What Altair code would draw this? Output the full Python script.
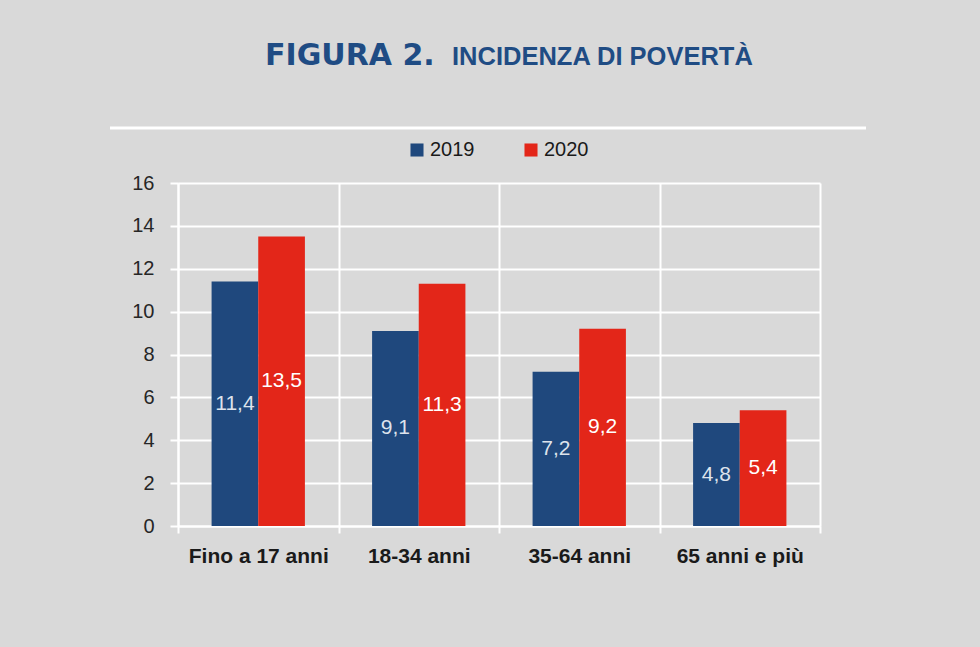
import altair as alt
import pandas as pd

# ---- data ----
categories = ["Fino a 17 anni", "18-34 anni", "35-64 anni", "65 anni e più"]
years = ["2019", "2020"]
values_2019 = [11.4, 9.1, 7.2, 4.8]
values_2020 = [13.5, 11.3, 9.2, 5.4]
y_ticks = [0, 2, 4, 6, 8, 10, 12, 14, 16]
title_left = "FIGURA 2."
title_right = "INCIDENZA DI POVERTÀ"

rows = []
for yr, vals in zip(years, [values_2019, values_2020]):
    for c, v in zip(categories, vals):
        rows.append({"cat": c, "year": yr, "v": v,
                     "label": f"{v:.1f}".replace(".", ",")})
df = pd.DataFrame(rows)

# ---- style ----
BG = "#d9d9d9"
BLUE = "#1f487d"
RED = "#e32619"
TITLE_BLUE = "#1f4c84"
SANS = "Liberation Sans, Arial, sans-serif"
W, H = 642, 343

x_enc = alt.X(
    "cat:N", sort=categories,
    scale=alt.Scale(paddingInner=0, paddingOuter=0),
    axis=alt.Axis(title=None, labelAngle=0, tickBand="extent", grid=True,
                  gridColor="white", gridWidth=2, domainColor="white",
                  domainWidth=2, tickColor="white", tickWidth=2, tickSize=7,
                  labelFont=SANS, labelFontWeight="bold", labelFontSize=21,
                  labelColor="#1a1a1a", labelPadding=12),
)
xoff = alt.XOffset("year:N", sort=years,
                   scale=alt.Scale(paddingInner=0, paddingOuter=0.72))
y_scale = alt.Scale(domain=[0, 16], nice=False)
y_axis = alt.Axis(title=None, values=y_ticks, grid=True, gridColor="white",
                  gridWidth=2, domainColor="white", domainWidth=2,
                  tickColor="white", tickWidth=2, tickSize=8,
                  labelFont=SANS, labelFontSize=20, labelColor="#262626",
                  labelPadding=16)

base = alt.Chart(df)

bars = base.mark_bar().encode(
    x=x_enc,
    xOffset=xoff,
    y=alt.Y("v:Q", scale=y_scale, axis=y_axis),
    color=alt.Color(
        "year:N", sort=years,
        scale=alt.Scale(domain=years, range=[BLUE, RED]),
        legend=alt.Legend(orient="none", legendX=229, legendY=-43,
                          direction="horizontal", title=None,
                          symbolType="square", symbolSize=170,
                          symbolStrokeWidth=0, labelFont=SANS,
                          labelFontSize=20, labelColor="#1a1a1a",
                          labelOffset=3, columnPadding=46),
    ),
)

labels = base.transform_calculate(mid="datum.v / 2").mark_text(
    font=SANS, fontSize=21, baseline="middle", align="center"
).encode(
    x=alt.X("cat:N", sort=categories),
    xOffset=xoff,
    y=alt.Y("mid:Q", scale=y_scale),
    text="label:N",
    color=alt.condition("datum.year == '2019'", alt.value("#dde3ec"),
                        alt.value("#ffffff")),
)

title1 = alt.Chart(alt.Data(values=[{"t": title_left}])).mark_text(
    font="DejaVu Sans", fontWeight="bold", fontSize=30, align="left",
    baseline="alphabetic", color=TITLE_BLUE
).encode(text="t:N", x=alt.value(87), y=alt.value(-118))

title2 = alt.Chart(alt.Data(values=[{"t": title_right}])).mark_text(
    font=SANS, fontWeight="bold", fontSize=25.5, align="left",
    baseline="alphabetic", color=TITLE_BLUE
).encode(text="t:N", x=alt.value(274), y=alt.value(-118))

topline = alt.Chart(alt.Data(values=[{"a": 1}])).mark_rule(
    color="white", strokeWidth=3
).encode(x=alt.value(-68), x2=alt.value(688), y=alt.value(-55))

chart = alt.layer(bars, labels, topline, title1, title2).properties(
    width=W, height=H,
    autosize=alt.AutoSizeParams(type="none"),
    padding={"left": 178, "top": 183, "right": 980 - 178 - W,
             "bottom": 647 - 183 - H},
    background=BG,
).configure_view(stroke=None)

chart.save("out.html", embed_options={"renderer": "svg", "actions": False})
